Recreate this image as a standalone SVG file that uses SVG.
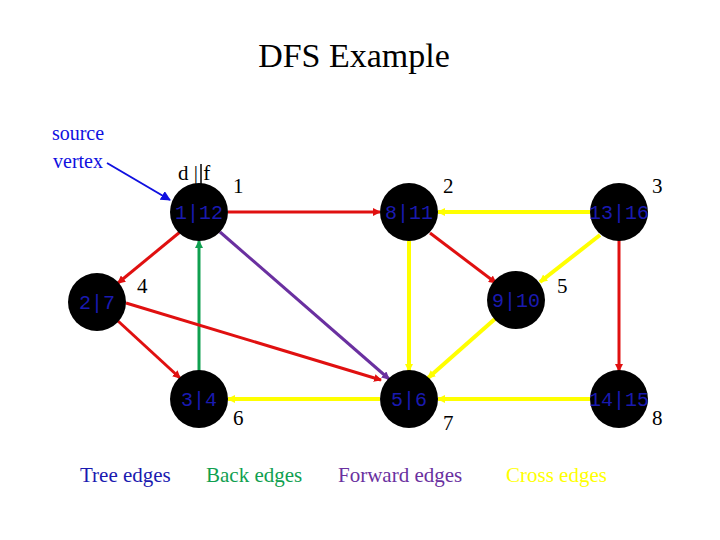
<svg xmlns="http://www.w3.org/2000/svg" width="720" height="540" viewBox="0 0 720 540">
<defs>
<marker id="mr" markerWidth="8" markerHeight="8" refX="7" refY="4" orient="auto" markerUnits="userSpaceOnUse" viewBox="0 0 8 8"><path d="M0,0 L8,4 L0,8 z" fill="#e01010"/></marker>
<marker id="my" markerWidth="8" markerHeight="8" refX="7" refY="4" orient="auto" markerUnits="userSpaceOnUse" viewBox="0 0 8 8"><path d="M0,0 L8,4 L0,8 z" fill="#ffff00"/></marker>
<marker id="mg" markerWidth="8" markerHeight="8" refX="7" refY="4" orient="auto" markerUnits="userSpaceOnUse" viewBox="0 0 8 8"><path d="M0,0 L8,4 L0,8 z" fill="#10a050"/></marker>
<marker id="mp" markerWidth="8" markerHeight="8" refX="7" refY="4" orient="auto" markerUnits="userSpaceOnUse" viewBox="0 0 8 8"><path d="M0,0 L8,4 L0,8 z" fill="#6a30a0"/></marker>
<marker id="mb" markerWidth="10" markerHeight="10" refX="9" refY="5" orient="auto" markerUnits="userSpaceOnUse" viewBox="0 0 10 10"><path d="M0,0 L10,5 L0,10 z" fill="#1010e0"/></marker>
</defs>
<style>
.n{fill:#000}
.l{font-family:"Liberation Mono",monospace;font-size:20px;fill:#1a1ab0;text-anchor:middle}
.t{font-family:"Liberation Serif",serif;font-size:21px;fill:#000}
.r{stroke:#e01010;stroke-width:3;fill:none;marker-end:url(#mr)}
.y{stroke:#ffff00;stroke-width:4;fill:none;marker-end:url(#my)}
.g{stroke:#10a050;stroke-width:3;fill:none;marker-end:url(#mg)}
.p{stroke:#6a30a0;stroke-width:3;fill:none;marker-end:url(#mp)}
</style>
<rect width="720" height="540" fill="#fff"/>
<text x="354" y="67" font-family="Liberation Serif,serif" font-size="34" text-anchor="middle">DFS Example</text>
<text x="78" y="140" font-family="Liberation Serif,serif" font-size="20" fill="#1010e0" text-anchor="middle">source</text>
<text x="78" y="168" font-family="Liberation Serif,serif" font-size="20" fill="#1010e0" text-anchor="middle">vertex</text>
<line x1="107" y1="163" x2="170" y2="200" stroke="#1010e0" stroke-width="2" marker-end="url(#mb)"/>
<g id="connectors">
<line class="r" x1="228" y1="212" x2="380" y2="212"/>
<line class="y" x1="590" y1="212" x2="438" y2="212"/>
<line class="y" x1="600" y1="235" x2="540" y2="282"/>
<line class="r" x1="619" y1="240" x2="619" y2="371"/>
<line class="r" x1="430" y1="233" x2="496" y2="283"/>
<line class="y" x1="496" y1="318" x2="428" y2="378"/>
<line class="y" x1="409" y1="241" x2="409" y2="371"/>
<line class="y" x1="590" y1="399" x2="438" y2="399"/>
<line class="y" x1="380" y1="399" x2="228" y2="399"/>
<line class="r" x1="180" y1="232" x2="118" y2="283"/>
<line class="r" x1="118" y1="321" x2="180" y2="378"/>
<line class="g" x1="199" y1="371" x2="199" y2="241"/>
<line class="p" x1="220" y1="232" x2="389" y2="379"/>
<line class="r" x1="126" y1="303" x2="381" y2="380"/>
</g>
<g id="n1"><circle class="n" cx="199" cy="212" r="29"/><text class="l" x="199" y="219">1|12</text></g>
<g id="n2"><circle class="n" cx="409" cy="212" r="29"/><text class="l" x="409" y="219">8|11</text></g>
<g id="n3"><circle class="n" cx="619" cy="212" r="29"/><text class="l" x="619" y="219">13|16</text></g>
<g id="n4"><circle class="n" cx="97" cy="302" r="29"/><text class="l" x="97" y="309">2|7</text></g>
<g id="n5"><circle class="n" cx="516" cy="300" r="29"/><text class="l" x="516" y="307">9|10</text></g>
<g id="n6"><circle class="n" cx="199" cy="399" r="29"/><text class="l" x="199" y="406">3|4</text></g>
<g id="n7"><circle class="n" cx="409" cy="399" r="29"/><text class="l" x="409" y="406">5|6</text></g>
<g id="n8"><circle class="n" cx="619" cy="399" r="29"/><text class="l" x="619" y="406">14|15</text></g>
<text class="t" x="178" y="180">d | f</text>
<line x1="201" y1="164" x2="201" y2="185" stroke="#000" stroke-width="1.5"/>
<text class="t" x="233" y="193">1</text>
<text class="t" x="443" y="193">2</text>
<text class="t" x="652" y="193">3</text>
<text class="t" x="137" y="293">4</text>
<text class="t" x="557" y="293">5</text>
<text class="t" x="233" y="425">6</text>
<text class="t" x="443" y="430">7</text>
<text class="t" x="652" y="425">8</text>
<text x="80" y="482" font-family="Liberation Serif,serif" font-size="21" fill="#1a1ab0">Tree edges</text>
<text x="206" y="482" font-family="Liberation Serif,serif" font-size="21" fill="#10a050">Back edges</text>
<text x="338" y="482" font-family="Liberation Serif,serif" font-size="21" fill="#6a30a0">Forward edges</text>
<text x="506" y="482" font-family="Liberation Serif,serif" font-size="21" fill="#ffff00">Cross edges</text>
</svg>
